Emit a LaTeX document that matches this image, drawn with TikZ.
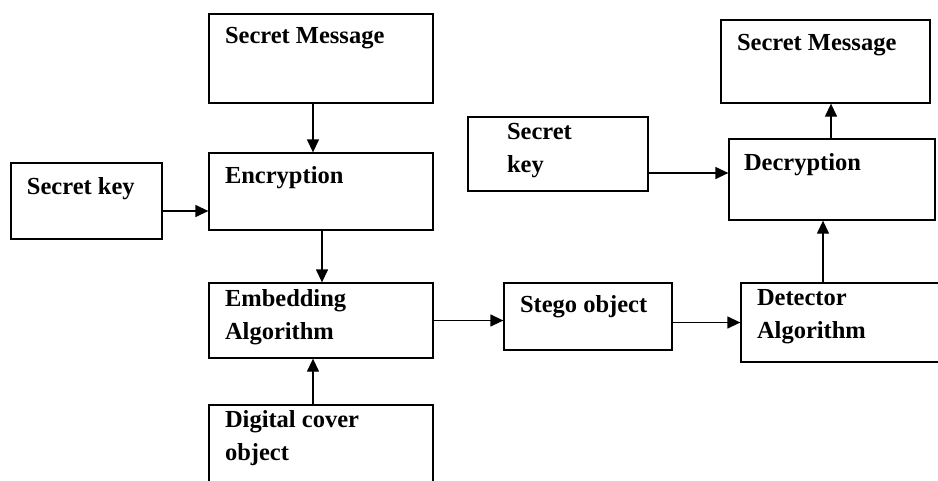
\documentclass[tikz,border=0pt]{standalone}
\usepackage{fontspec}
\setmainfont{Liberation Serif}
\usetikzlibrary{arrows.meta}

\begin{document}
\begin{tikzpicture}[x=1pt,y=-1pt,line width=1.3pt,
  ->,>={Triangle[length=13pt,width=12pt]},
  box/.style={draw,rectangle,inner sep=0pt,line width=1.3pt},
  lbl/.style={anchor=north west,inner sep=0pt,align=left,
    font=\fontsize{24.5}{33}\selectfont\bfseries,execute at begin node=\strut}]

  \useasboundingbox (0,0) rectangle (938,480);

  % sender side
  \node[box,minimum width=224pt,minimum height=89pt] (msg)  at (321,58.5)  {};
  \node[box,minimum width=224pt,minimum height=77pt] (enc)  at (321,191.5) {};
  \node[box,minimum width=151pt,minimum height=76pt] (key)  at (86.5,201)  {};
  \node[box,minimum width=224pt,minimum height=75pt] (emb)  at (321,320.5) {};
  \node[box,minimum width=224pt,minimum height=90pt] (cov)  at (321,450)   {};
  \node[box,minimum width=168pt,minimum height=67pt] (stego) at (588,316.5) {};

  % receiver side
  \node[box,minimum width=209pt,minimum height=79pt] (det)  at (845.5,322.5) {};
  \node[box,minimum width=206pt,minimum height=81pt] (dec)  at (832,179.5)  {};
  \node[box,minimum width=180pt,minimum height=74pt] (rkey) at (558,154)    {};
  \node[box,minimum width=209pt,minimum height=83pt] (rmsg) at (825.5,61.5) {};

  % texts
  \node[lbl] (msgtxt)   at ([xshift=16pt,yshift=-6pt]msg.north west)   {Secret Message};
  \node[lbl] (enctxt)   at ([xshift=16pt,yshift=-7pt]enc.north west)   {Encryption};
  \node[lbl] (keytxt)   at ([xshift=16pt,yshift=-8pt]key.north west)   {Secret key};
  \node[lbl] (embtxt)   at ([xshift=16pt,yshift=-6pt]emb.north west)   {Embedding\\Algorithm};
  \node[lbl] (covtxt)   at ([xshift=16pt,yshift=-5pt]cov.north west)   {Digital cover\\object};
  \node[lbl] (stegotxt) at ([xshift=16pt,yshift=-6pt]stego.north west) {Stego object};
  \node[lbl] (dettxt)   at ([xshift=16pt,yshift=-6pt]det.north west)   {Detector\\Algorithm};
  \node[lbl] (dectxt)   at ([xshift=15pt,yshift=-8pt]dec.north west)   {Decryption};
  \node[lbl] (rkeytxt)  at ([xshift=39pt,yshift=-6pt]rkey.north west)  {Secret\\key};
  \node[lbl] (rmsgtxt)  at ([xshift=16pt,yshift=-7pt]rmsg.north west)  {Secret Message};

  % connectors
  \draw ([xshift=-8pt]msg.south) -- ([xshift=-8pt]enc.north);
  \draw ([yshift=-10pt]key.east) -- ([yshift=-10pt]key.east -| enc.west);
  \draw ([xshift=1pt]enc.south) -- ([xshift=1pt]emb.north);
  \draw ([xshift=-8pt]cov.north) -- ([xshift=-8pt]emb.south);
  \draw (emb.east) -- (emb.east -| stego.west);
  \draw (det.west -| stego.east) -- (det.west);
  \draw (det.north -| 823,0) -- (dec.south -| 823,0);
  \draw (dec.north -| 831,0) -- (rmsg.south -| 831,0);
  \draw ([yshift=-19pt]rkey.east) -- ([yshift=-19pt]rkey.east -| dec.west);

\end{tikzpicture}
\end{document}
